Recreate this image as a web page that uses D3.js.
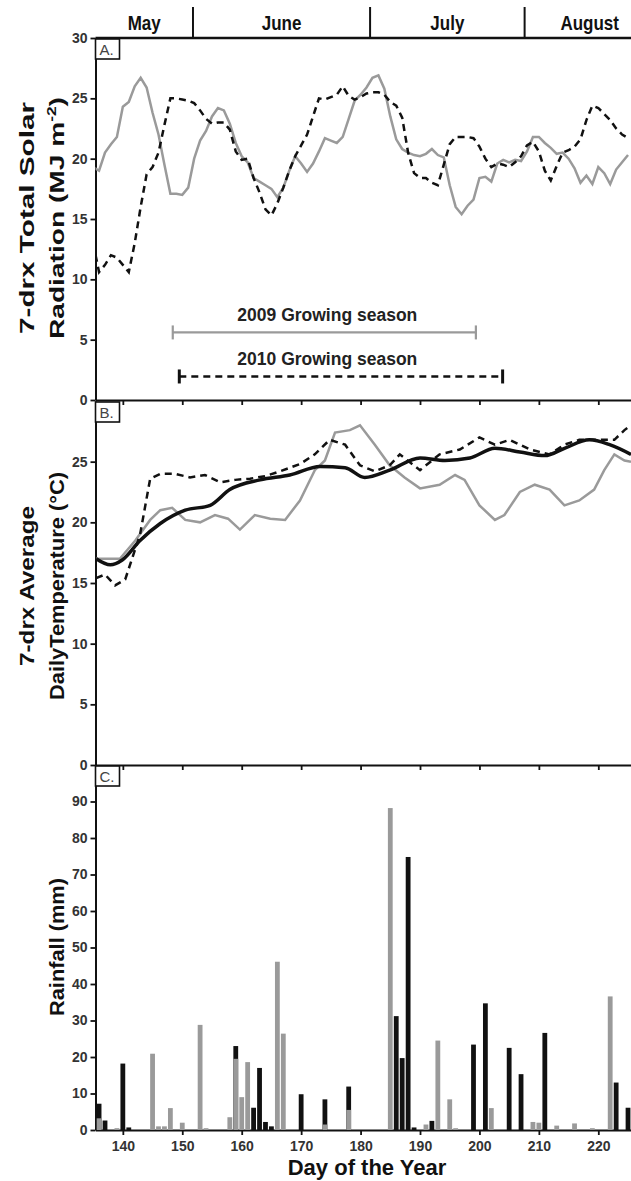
<!DOCTYPE html>
<html>
<head>
<meta charset="utf-8" />
<title>Solar radiation, temperature and rainfall</title>
<script src="https://d3js.org/d3.v7.min.js"></script>
<style>
  body { margin: 0; background: #fff; }
  text { font-family: "Liberation Sans", Arial, sans-serif; }
</style>
</head>
<body>
<svg id="chart" width="631" height="1181"></svg>
<script>
// ---- data ----
// months shown in the header strip (day of year boundaries as drawn)
var monthNames = ["May", "June", "July", "August"];
var monthStarts = [135.4, 151.8, 181.6, 207.6];
var monthEnds = [151.8, 181.6, 207.6, 229.5];

// A. 7-day running total solar radiation (MJ m-2), one value per day from day 135
var solarStartDay = 135;
var solar2009 = [19.3, 19.0, 20.5, 21.2, 21.8, 24.3, 24.7, 26.0, 26.7, 25.9,
  23.8, 22.0, 19.5, 17.1, 17.1, 17.0, 17.6, 20.0, 21.5, 22.3,
  23.5, 24.2, 24.0, 22.9, 21.3, 20.2, 19.7, 18.4, 18.1, 17.8,
  17.5, 16.8, 17.6, 19.0, 20.2, 19.6, 18.9, 19.6, 20.6, 21.7,
  21.5, 21.3, 21.8, 23.3, 24.8, 25.3, 25.9, 26.7, 26.9, 25.8,
  23.5, 21.6, 20.8, 20.5, 20.3, 20.2, 20.4, 20.8, 20.3, 20.1,
  17.8, 16.0, 15.4, 16.1, 16.6, 18.4, 18.5, 18.1, 19.6, 19.9,
  19.7, 19.9, 19.8, 20.6, 21.8, 21.8, 21.3, 20.9, 20.4, 20.5,
  20.0, 19.2, 18.0, 18.6, 17.9, 19.3, 18.8, 17.9, 19.1, 19.7, 20.3];
var solar2010 = [13.0, 10.6, 11.2, 12.0, 11.8, 11.2, 10.6, 13.0, 16.0, 18.7,
  19.3, 20.5, 22.8, 25.0, 25.0, 24.9, 24.8, 24.6, 24.0, 23.3,
  22.9, 23.0, 23.0, 22.4, 20.6, 19.9, 20.0, 18.4, 17.2, 15.8,
  15.3, 16.3, 17.6, 19.0, 20.2, 21.1, 22.0, 23.5, 25.0, 24.9,
  25.1, 25.3, 26.0, 25.2, 24.9, 25.1, 25.4, 25.5, 25.5, 25.3,
  24.7, 24.4, 23.4, 20.5, 18.8, 18.4, 18.4, 18.0, 17.8, 19.5,
  21.2, 21.8, 21.8, 21.8, 21.7, 21.0, 20.0, 19.3, 19.6, 19.5,
  19.3, 19.7, 20.2, 21.1, 21.4, 20.6, 19.0, 18.2, 19.4, 20.5,
  20.7, 21.0, 21.6, 23.2, 24.4, 24.2, 23.7, 23.2, 22.5, 22.0, 21.7];

// growing seasons (start day, end day)
var seasonNames = ["2009 Growing season", "2010 Growing season"];
var seasonStart = [148.4, 149.5];
var seasonEnd = [199.4, 203.9];

// B. 7-day running average daily temperature (deg C), read at these days
var tempDays2009 = [135.5, 139.5, 142.1, 144.6, 146.3, 148.3, 150.5, 153, 155.5, 157.7,
  159.7, 162.2, 164.8, 167.3, 169.8, 172.3, 174, 175.7, 178.2, 179.9,
  182.4, 184.9, 187.4, 190, 193.3, 195.9, 197.5, 200, 202.6, 204.2,
  206.8, 209.3, 211.8, 214.3, 216.8, 219.3, 221, 222.7, 224.4, 225.5];
var temp2009 = [17.0, 17.0, 18.5, 20.2, 21.0, 21.2, 20.2, 20.0, 20.6, 20.3,
  19.4, 20.6, 20.3, 20.2, 21.8, 24.3, 25.1, 27.4, 27.6, 28.0,
  26.4, 24.7, 23.7, 22.8, 23.1, 23.9, 23.5, 21.4, 20.2, 20.6,
  22.5, 23.1, 22.7, 21.4, 21.8, 22.7, 24.3, 25.6, 25.1, 25.0];
var tempDays2010 = [135.5, 137, 138.7, 140.4, 142.9, 144.6, 146.3, 148.8, 151.3, 153.8,
  156.4, 158.9, 161.4, 163.9, 166.4, 169.8, 172.3, 174.8, 177.4, 179.9,
  182.4, 184.9, 186.6, 190, 193.3, 196.7, 200, 202.6, 205.1, 208.5,
  211.8, 214.3, 216.8, 220.2, 222.7, 224.4, 225.5];
var temp2010 = [15.4, 15.7, 14.8, 15.3, 19.0, 23.6, 24.0, 24.0, 23.7, 23.9,
  23.3, 23.5, 23.6, 23.8, 24.2, 24.8, 25.6, 26.8, 26.4, 24.7,
  24.2, 24.7, 25.6, 24.3, 25.6, 26.0, 27.0, 26.4, 26.8, 26.0,
  25.6, 26.4, 26.8, 26.8, 26.8, 27.6, 28.0];
var tempDaysNormal = [135.5, 137.9, 139.9, 142.9, 146.3, 150.5, 154.7, 158, 163.1, 168.1,
  173.2, 177.4, 180.7, 184.9, 190, 194.2, 198.4, 202.6, 206.8, 211,
  214.3, 218.5, 221.9, 225.5];
var tempNormal = [17.0, 16.5, 16.9, 18.5, 19.9, 21.0, 21.4, 22.7, 23.5, 23.9,
  24.6, 24.5, 23.7, 24.3, 25.3, 25.1, 25.3, 26.1, 25.8, 25.5,
  26.1, 26.8, 26.4, 25.6];

// C. daily rainfall (mm)
var rainDays2009 = [136, 139, 145, 146, 147, 148, 150, 153, 154, 158, 159, 160, 161, 166, 167,
  174, 178, 185, 191, 193, 195, 196, 202, 209, 210, 213, 216, 219, 222];
var rain2009 = [3.2, 0.5, 20.9, 1.0, 1.0, 6.0, 2.0, 28.8, 0.5, 3.5, 19.5, 9.0, 18.6, 46.1, 26.4,
  1.5, 5.5, 88.2, 1.5, 24.5, 8.4, 0.5, 6.0, 2.2, 2.0, 1.2, 1.8, 0.5, 36.6];
var rainDays2010 = [136, 137, 140, 141, 159, 162, 163, 164, 165, 170, 174, 178, 186, 187, 188,
  189, 192, 199, 201, 205, 207, 211, 223, 225];
var rain2010 = [7.2, 2.6, 18.2, 0.7, 23.0, 6.1, 17.0, 2.2, 1.0, 9.8, 8.4, 11.9, 31.2, 19.7, 74.8,
  0.7, 2.5, 23.4, 34.7, 22.5, 15.3, 26.6, 13.0, 6.1];

var dayTicks = [140, 150, 160, 170, 180, 190, 200, 210, 220];
var solarTicks = [0, 5, 10, 15, 20, 25, 30];
var tempTicks = [0, 5, 10, 15, 20, 25];
var rainTicks = [0, 10, 20, 30, 40, 50, 60, 70, 80, 90];

// ---- layout ----
var svg = d3.select("#chart");
var left = 95.5, right = 631;
var grey = "#9a9a9a", ink = "#111", tickInk = "#333";

var x = d3.scaleLinear().domain([135.4, 225.5]).range([left, right]);
var yA = d3.scaleLinear().domain([0, 30]).range([400, 38]);
var yB = d3.scaleLinear().domain([0, 30]).range([765, 401]);
var yC = d3.scaleLinear().domain([0, 100]).range([1130, 765]);

svg.append("clipPath").attr("id", "plotClip")
  .append("rect").attr("x", left).attr("y", 0).attr("width", right - left).attr("height", 1181);

function pairs(days, vals) {
  return vals.map(function (v, i) { return [days[i], v]; });
}
function daily(start, vals) {
  return vals.map(function (v, i) { return [start + i, v]; });
}

// header strip with months
var head = svg.append("g");
head.selectAll("line.sep")
  .data(monthStarts.slice(1))
  .enter().append("line")
  .attr("x1", function (d) { return x(d); }).attr("x2", function (d) { return x(d); })
  .attr("y1", 7).attr("y2", 38)
  .attr("stroke", ink).attr("stroke-width", 2);
head.selectAll("text")
  .data(monthNames)
  .enter().append("text")
  .attr("transform", function (d, i) {
    return "translate(" + x((monthStarts[i] + monthEnds[i]) / 2) + ",30) scale(1,1.2)";
  })
  .attr("text-anchor", "middle")
  .style("font-size", "17px").style("font-weight", "bold").attr("fill", ink)
  .text(function (d) { return d; });
head.append("line")
  .attr("x1", left).attr("x2", right).attr("y1", yA(30)).attr("y2", yA(30))
  .attr("stroke", ink).attr("stroke-width", 2.5);

// axes for each panel
function yAxis(scale, ticks) {
  var g = svg.append("g").attr("transform", "translate(" + left + ",0)")
    .call(d3.axisLeft(scale).tickValues(ticks).tickSize(5).tickSizeOuter(0).tickPadding(3));
  g.select(".domain").attr("stroke", ink).attr("stroke-width", 2);
  g.selectAll(".tick line").attr("stroke", ink).attr("stroke-width", 1.8);
  g.selectAll(".tick text").attr("fill", tickInk)
    .style("font-size", "14px").style("font-weight", "bold").style("font-family", "'Liberation Sans', Arial, sans-serif");
  return g;
}
function xAxis(yPos, labels) {
  var ax = d3.axisBottom(x).tickValues(dayTicks).tickSize(5).tickSizeOuter(0).tickPadding(6);
  if (!labels) ax.tickFormat("");
  var g = svg.append("g").attr("transform", "translate(0," + yPos + ")").call(ax);
  g.select(".domain").attr("stroke", ink).attr("stroke-width", 2.2);
  g.selectAll(".tick line").attr("stroke", ink).attr("stroke-width", 1.8);
  g.selectAll(".tick text").attr("fill", tickInk)
    .style("font-size", "14px").style("font-weight", "bold").style("font-family", "'Liberation Sans', Arial, sans-serif");
  return g;
}
yAxis(yA, solarTicks);
yAxis(yB, tempTicks);
yAxis(yC, rainTicks);
xAxis(yA(0), false);
xAxis(yB(0), false);
xAxis(yC(0), true);

// panel letters
var panelTops = [yA(30), yB(30), yC(100)];
["A.", "B.", "C."].forEach(function (t, i) {
  svg.append("rect").attr("x", left).attr("y", panelTops[i] + 1)
    .attr("width", 24).attr("height", 20)
    .attr("fill", "#fff").attr("stroke", ink).attr("stroke-width", 1.6);
  svg.append("text").attr("x", left + 4).attr("y", panelTops[i] + 17)
    .style("font-size", "15px").attr("fill", "#444").text(t);
});

// axis titles (stretched along their length as in the original)
function yTitle(lines, lengths, cy) {
  var cx = [27, 57];
  lines.forEach(function (t, i) {
    if (!t) return;
    svg.append("text")
      .attr("transform", "translate(" + (cx[i] + 7) + "," + cy + ") rotate(-90)")
      .attr("text-anchor", "middle")
      .attr("textLength", lengths[i]).attr("lengthAdjust", "spacingAndGlyphs")
      .style("font-size", "21px").style("font-weight", "bold").attr("fill", ink)
      .html(t);
  });
}
yTitle(["7-drx Total Solar", "Radiation (MJ m<tspan dy='-8' font-size='13px'>-2</tspan><tspan dy='8'>)</tspan>"], [232, 242], 218);
yTitle(["7-drx Average", "DailyTemperature (°C)"], [160, 228], 586);
yTitle(["", "Rainfall (mm)"], [0, 138], 947);
svg.append("text").attr("x", 367).attr("y", 1175).attr("text-anchor", "middle")
  .style("font-size", "22px").style("font-weight", "bold").attr("fill", ink)
  .text("Day of the Year");

// ---- A: solar radiation lines ----
var lineA = d3.line().x(function (d) { return x(d[0]); }).y(function (d) { return yA(d[1]); });
var plot = svg.append("g").attr("clip-path", "url(#plotClip)");
plot.append("path").datum(daily(solarStartDay, solar2009))
  .attr("d", lineA).attr("fill", "none").attr("stroke", grey).attr("stroke-width", 2.5);
plot.append("path").datum(daily(solarStartDay, solar2010))
  .attr("d", lineA).attr("fill", "none").attr("stroke", ink).attr("stroke-width", 2.5)
  .attr("stroke-dasharray", "7,5");

// growing season bars
var seasonY = [yA(5.6), yA(1.95)];
var seasonStroke = [grey, ink];
seasonNames.forEach(function (name, i) {
  var g = svg.append("g");
  g.append("line").attr("x1", x(seasonStart[i])).attr("x2", x(seasonEnd[i]))
    .attr("y1", seasonY[i]).attr("y2", seasonY[i])
    .attr("stroke", seasonStroke[i]).attr("stroke-width", i ? 2.5 : 2.2)
    .attr("stroke-dasharray", i ? "7,5" : null);
  [seasonStart[i], seasonEnd[i]].forEach(function (d) {
    g.append("line").attr("x1", x(d)).attr("x2", x(d))
      .attr("y1", seasonY[i] - 7).attr("y2", seasonY[i] + 7)
      .attr("stroke", seasonStroke[i]).attr("stroke-width", i ? 3 : 2.2);
  });
  g.append("text").attr("x", x((seasonStart[0] + seasonEnd[0]) / 2) + 3).attr("y", seasonY[i] - 11)
    .attr("text-anchor", "middle")
    .style("font-size", "17.5px").style("font-weight", "bold").attr("fill", "#222")
    .text(name);
});

// ---- B: temperature lines ----
var lineB = d3.line().x(function (d) { return x(d[0]); }).y(function (d) { return yB(d[1]); });
plot.append("path").datum(pairs(tempDays2009, temp2009))
  .attr("d", lineB).attr("fill", "none").attr("stroke", grey).attr("stroke-width", 2.5);
plot.append("path").datum(pairs(tempDays2010, temp2010))
  .attr("d", lineB).attr("fill", "none").attr("stroke", ink).attr("stroke-width", 2.5)
  .attr("stroke-dasharray", "7,5");
plot.append("path").datum(pairs(tempDaysNormal, tempNormal))
  .attr("d", lineB.curve(d3.curveMonotoneX)).attr("fill", "none").attr("stroke", ink).attr("stroke-width", 3.5);

// ---- C: rainfall bars (2010 black behind, 2009 grey in front) ----
var barW = 4.8;
plot.selectAll("rect.r2010").data(pairs(rainDays2010, rain2010)).enter().append("rect")
  .attr("class", "r2010")
  .attr("x", function (d) { return x(d[0]) - barW / 2; })
  .attr("y", function (d) { return yC(d[1]); })
  .attr("width", barW)
  .attr("height", function (d) { return yC(0) - yC(d[1]); })
  .attr("fill", ink);
plot.selectAll("rect.r2009").data(pairs(rainDays2009, rain2009)).enter().append("rect")
  .attr("class", "r2009")
  .attr("x", function (d) { return x(d[0]) - barW / 2; })
  .attr("y", function (d) { return yC(d[1]); })
  .attr("width", barW)
  .attr("height", function (d) { return yC(0) - yC(d[1]); })
  .attr("fill", grey);
</script>
</body>
</html>
